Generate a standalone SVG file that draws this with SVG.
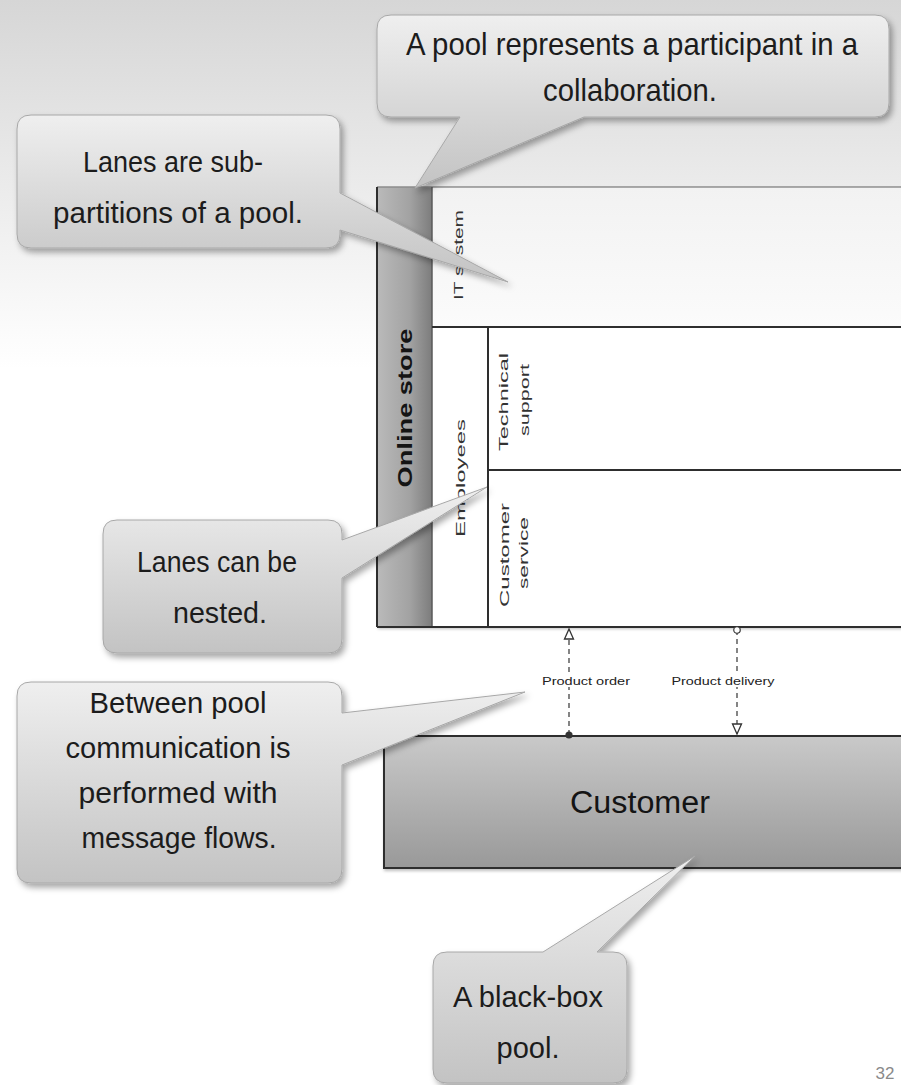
<svg xmlns="http://www.w3.org/2000/svg" width="901" height="1085" viewBox="0 0 901 1085">
  <defs>
    <linearGradient id="bg" x1="0" y1="0" x2="0" y2="1">
      <stop offset="0" stop-color="#d6d6d6"/>
      <stop offset="0.22" stop-color="#f1f1f1"/>
      <stop offset="0.34" stop-color="#ffffff"/>
      <stop offset="1" stop-color="#ffffff"/>
    </linearGradient>
    <linearGradient id="calloutFill" x1="0" y1="0" x2="0" y2="1">
      <stop offset="0" stop-color="#efefef"/>
      <stop offset="1" stop-color="#c3c3c3"/>
    </linearGradient>
    <linearGradient id="headerFill" x1="0" y1="0" x2="1" y2="0">
      <stop offset="0" stop-color="#bababa"/>
      <stop offset="0.6" stop-color="#a2a2a2"/>
      <stop offset="1" stop-color="#7c7c7c"/>
    </linearGradient>
    <linearGradient id="itLane" x1="0" y1="0" x2="0" y2="1">
      <stop offset="0" stop-color="#f2f2f2"/>
      <stop offset="1" stop-color="#fbfbfb"/>
    </linearGradient>
    <linearGradient id="blackBox" x1="0" y1="0" x2="0" y2="1">
      <stop offset="0" stop-color="#c9c9c9"/>
      <stop offset="1" stop-color="#999999"/>
    </linearGradient>
    <filter id="shadow" x="-10%" y="-10%" width="125%" height="130%">
      <feDropShadow dx="3" dy="4" stdDeviation="3" flood-color="#000" flood-opacity="0.35"/>
    </filter>
    <filter id="soft" x="-5%" y="-5%" width="110%" height="120%">
      <feDropShadow dx="1" dy="2" stdDeviation="1.5" flood-color="#000" flood-opacity="0.25"/>
    </filter>
    <marker id="openTriangle" viewBox="0 0 12 12" refX="11" refY="6" markerWidth="12" markerHeight="12" markerUnits="userSpaceOnUse" orient="auto">
      <path d="M1,1.5 L11,6 L1,10.5 Z" fill="#ffffff" stroke="#333" stroke-width="1.3"/>
    </marker>
    <marker id="dotStart" viewBox="0 0 10 10" refX="5" refY="5" markerWidth="9" markerHeight="9" markerUnits="userSpaceOnUse">
      <circle cx="5" cy="5" r="4" fill="#333"/>
    </marker>
    <marker id="ringStart" viewBox="0 0 10 10" refX="5" refY="5" markerWidth="9" markerHeight="9" markerUnits="userSpaceOnUse">
      <circle cx="5" cy="5" r="3.6" fill="#ffffff" stroke="#333" stroke-width="1.3"/>
    </marker>
    <style>
      .callout { fill: url(#calloutFill); stroke: #a8a8a8; stroke-width: 1; filter: url(#shadow); }
      .ctext { font-family: "Liberation Sans", Arial, sans-serif; fill: #1c1c1c; text-anchor: middle; lengthAdjust: spacingAndGlyphs; }
      .lane { stroke: #2e2e2e; stroke-width: 2; }
      .laneLabel { font-family: "Liberation Sans", Arial, sans-serif; font-size: 13px; fill: #333; text-anchor: middle; dominant-baseline: central; }
      .flow { fill: none; stroke: #444; stroke-width: 1.3; stroke-dasharray: 5 4; }
      .flowLabel { font-family: "Liberation Sans", Arial, sans-serif; font-size: 10px; fill: #222; text-anchor: middle; }
    </style>
  </defs>

  <!-- slide background -->
  <rect x="0" y="0" width="901" height="1085" fill="url(#bg)"/>

  <!-- Online store pool with its lanes -->
  <g id="pool-online-store">
    <rect x="377" y="187" width="530" height="440" fill="#ffffff" filter="url(#soft)"/>
    <rect x="377" y="187" width="55" height="440" fill="url(#headerFill)"/>
    <text transform="translate(405,408) rotate(-90)" font-family="Liberation Sans, Arial, sans-serif" font-size="20" font-weight="bold" fill="#141414" text-anchor="middle" dominant-baseline="central" textLength="159" lengthAdjust="spacingAndGlyphs">Online store</text>
    <line x1="377" y1="187" x2="905" y2="187" stroke="#8c8c8c" stroke-width="1.5"/>
    <line x1="377" y1="187" x2="377" y2="627" class="lane"/>
    <line x1="432" y1="187" x2="432" y2="627" stroke="#5a5a5a" stroke-width="1.5"/>
  </g>

  <g id="lane-it-system">
    <rect x="433" y="188" width="472" height="139" fill="url(#itLane)"/>
    <text class="laneLabel" transform="translate(458,255) rotate(-90)" textLength="90" lengthAdjust="spacingAndGlyphs">IT system</text>
  </g>

  <g id="lane-employees">
    <line x1="432" y1="327" x2="905" y2="327" class="lane"/>
    <line x1="488" y1="327" x2="488" y2="627" class="lane"/>
    <text class="laneLabel" transform="translate(460,478) rotate(-90)" textLength="118" lengthAdjust="spacingAndGlyphs">Employees</text>
  </g>

  <g id="lane-technical-support">
    <text class="laneLabel" transform="translate(503,402) rotate(-90)" textLength="98" lengthAdjust="spacingAndGlyphs">Technical</text>
    <text class="laneLabel" transform="translate(524,400) rotate(-90)" textLength="72" lengthAdjust="spacingAndGlyphs">support</text>
  </g>

  <g id="lane-customer-service">
    <line x1="488" y1="470" x2="905" y2="470" class="lane"/>
    <text class="laneLabel" transform="translate(504,555) rotate(-90)" textLength="104" lengthAdjust="spacingAndGlyphs">Customer</text>
    <text class="laneLabel" transform="translate(523,553) rotate(-90)" textLength="72" lengthAdjust="spacingAndGlyphs">service</text>
    <line x1="377" y1="627" x2="905" y2="627" class="lane"/>
  </g>

  <!-- Customer (black-box pool) -->
  <g id="pool-customer">
    <rect x="384" y="736" width="525" height="132" fill="url(#blackBox)" stroke="#2e2e2e" stroke-width="2" filter="url(#soft)"/>
    <text x="640" y="813" font-family="Liberation Sans, Arial, sans-serif" font-size="31" fill="#141414" text-anchor="middle" textLength="140" lengthAdjust="spacingAndGlyphs">Customer</text>
  </g>

  <!-- message flows between the pools -->
  <g id="connectors">
    <g id="flow-product-order">
      <line x1="569" y1="735" x2="569" y2="629" class="flow" marker-start="url(#dotStart)" marker-end="url(#openTriangle)"/>
      <rect x="540" y="674" width="92" height="13" fill="#ffffff"/>
      <text class="flowLabel" x="586" y="685" textLength="88" lengthAdjust="spacingAndGlyphs">Product order</text>
    </g>
    <g id="flow-product-delivery">
      <line x1="737" y1="630" x2="737" y2="734" class="flow" marker-start="url(#ringStart)" marker-end="url(#openTriangle)"/>
      <rect x="670" y="674" width="107" height="13" fill="#ffffff"/>
      <text class="flowLabel" x="723" y="685" textLength="103" lengthAdjust="spacingAndGlyphs">Product delivery</text>
    </g>
  </g>

  <!-- explanatory callouts -->
  <g id="callout-pool">
    <path class="callout" d="M391,15 H875 Q889,15 889,29 V103 Q889,117 875,117 H584 L415,188 L460,117 H391 Q377,117 377,103 V29 Q377,15 391,15 Z"/>
    <text class="ctext" x="632" y="55" font-size="32" textLength="452" lengthAdjust="spacingAndGlyphs">A pool represents a participant in a</text>
    <text class="ctext" x="630" y="101" font-size="32" textLength="174" lengthAdjust="spacingAndGlyphs">collaboration.</text>
  </g>

  <g id="callout-lanes">
    <path class="callout" d="M31,115 H326 Q340,115 340,129 V193 L508,282 L340,230 V234 Q340,248 326,248 H31 Q17,248 17,234 V129 Q17,115 31,115 Z"/>
    <text class="ctext" x="173" y="172" font-size="30" textLength="180" lengthAdjust="spacingAndGlyphs">Lanes are sub-</text>
    <text class="ctext" x="178" y="223" font-size="30" textLength="250" lengthAdjust="spacingAndGlyphs">partitions of a pool.</text>
  </g>

  <g id="callout-nested">
    <path class="callout" d="M117,520 H328 Q342,520 342,534 V540 L487,487 L342,578 V639 Q342,653 328,653 H117 Q103,653 103,639 V534 Q103,520 117,520 Z"/>
    <text class="ctext" x="217" y="572" font-size="29" textLength="160" lengthAdjust="spacingAndGlyphs">Lanes can be</text>
    <text class="ctext" x="220" y="623" font-size="29" textLength="94" lengthAdjust="spacingAndGlyphs">nested.</text>
  </g>

  <g id="callout-message-flows">
    <path class="callout" d="M31,682 H328 Q342,682 342,696 V713 L525,692 L342,765 V869 Q342,883 328,883 H31 Q17,883 17,869 V696 Q17,682 31,682 Z"/>
    <text class="ctext" x="178" y="713" font-size="29" textLength="177" lengthAdjust="spacingAndGlyphs">Between pool</text>
    <text class="ctext" x="178" y="758" font-size="29" textLength="225" lengthAdjust="spacingAndGlyphs">communication is</text>
    <text class="ctext" x="178" y="803" font-size="29" textLength="199" lengthAdjust="spacingAndGlyphs">performed with</text>
    <text class="ctext" x="179" y="848" font-size="29" textLength="195" lengthAdjust="spacingAndGlyphs">message flows.</text>
  </g>

  <g id="callout-black-box">
    <path class="callout" d="M447,952 H543 L695,856 L597,952 H613 Q627,952 627,966 V1069 Q627,1083 613,1083 H447 Q433,1083 433,1069 V966 Q433,952 447,952 Z"/>
    <text class="ctext" x="528" y="1007" font-size="30" textLength="150" lengthAdjust="spacingAndGlyphs">A black-box</text>
    <text class="ctext" x="528" y="1058" font-size="30" textLength="63" lengthAdjust="spacingAndGlyphs">pool.</text>
  </g>

  <!-- slide number -->
  <text x="885" y="1079" font-family="Liberation Sans, Arial, sans-serif" font-size="17" fill="#8a8a8a" text-anchor="middle">32</text>
</svg>
